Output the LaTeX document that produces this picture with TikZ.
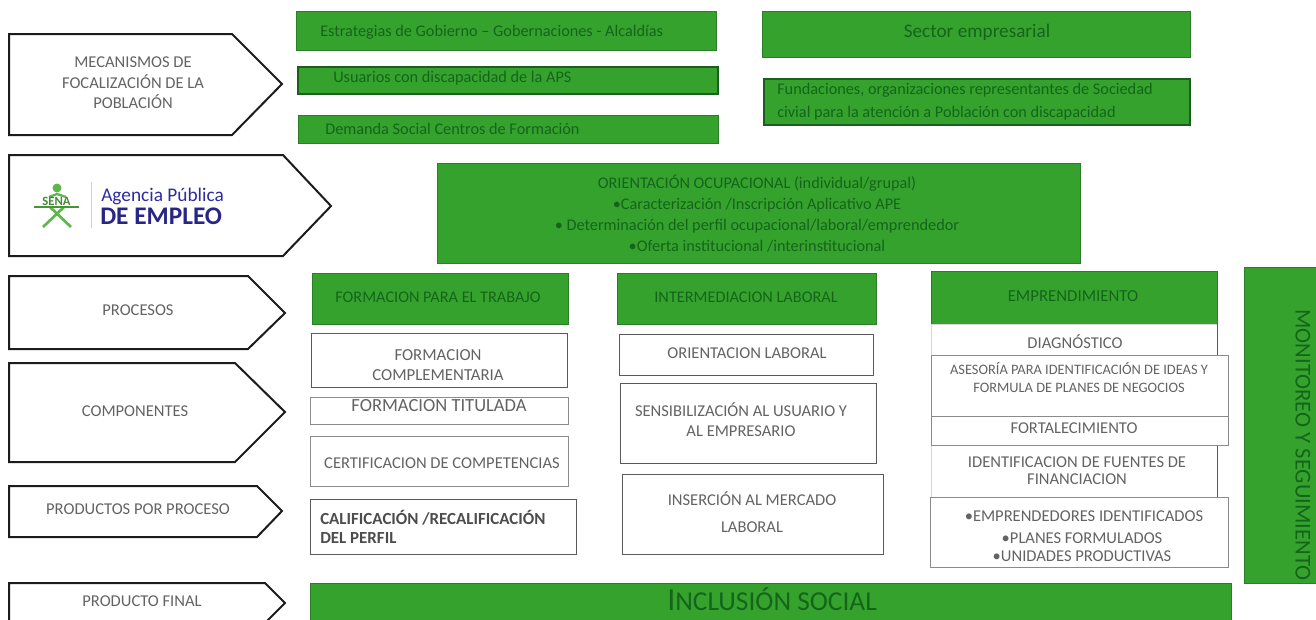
\documentclass[tikz,border=0pt]{standalone}
\usepackage{fontspec}
\setmainfont{Carlito}
\usetikzlibrary{fit}
\definecolor{gfill}{HTML}{35A22E}
\definecolor{gedge}{HTML}{2C7D2A}
\definecolor{gdark}{HTML}{1A5F1F}
\definecolor{gtext}{HTML}{14651A}
\definecolor{wtext}{HTML}{636363}
\definecolor{wedge}{HTML}{5A5A5A}
\definecolor{penedge}{HTML}{1C1C1C}
\definecolor{apeblue}{HTML}{2F2C9E}
\definecolor{senagreen}{HTML}{5DB84A}
\newcommand{\fs}[1]{\fontsize{#1}{#1}\selectfont}
\tikzset{
  x=0.75pt,y=-0.75pt,
  box/.style={inner sep=0pt,outer sep=0pt,line width=0.7pt},
  gbox/.style={box,fill=gfill,draw=gedge},
  gboxd/.style={box,fill=gfill,draw=gdark,line width=1pt},
  wbox/.style={box,fill=white,draw=wedge},
  wboxl/.style={box,fill=white,draw=wedge!70},
  wboxf/.style={box,fill=white,draw=wedge!25},
  gtxt/.style={text=gtext,inner sep=0pt,align=center,font=\fs{12.2}},
  wtxt/.style={text=wtext,inner sep=0pt,align=center,font=\fs{12.4}},
  pen/.style={draw=penedge,line width=1.5pt,fill=white,line join=miter},
}
\begin{document}
\begin{tikzpicture}
\useasboundingbox (0,0) rectangle (1316,619);
\clip (0,0) rectangle (1316,619);
\fill[white] (0,0) rectangle (1316,619);
% pentagons
\draw[pen] (9,34) -- (232,34) -- (282,84) -- (232,135) -- (9,135) -- cycle;
\draw[pen] (9,155) -- (283,155) -- (331,206) -- (283,256) -- (9,256) -- cycle;
\draw[pen] (9,276) -- (248,276) -- (285,313) -- (248,349) -- (9,349) -- cycle;
\draw[pen] (9,363) -- (235,363) -- (285,412) -- (235,462) -- (9,462) -- cycle;
\draw[pen] (9,486) -- (257,486) -- (282,511) -- (257,537) -- (9,537) -- cycle;
\draw[pen] (9,583) -- (265,583) -- (285,603) -- (265,623) -- (9,623) -- cycle;
\node[wtxt] (tmec) at (133,83) {MECANISMOS DE\\[3pt]FOCALIZACIÓN  DE LA\\[3pt]POBLACIÓN};
\node[wtxt] (tpro) at (138,310) {PROCESOS};
\node[wtxt] (tcom) at (135,411) {COMPONENTES};
\node[wtxt] (tprp) at (138,509) {PRODUCTOS POR PROCESO};
\node[wtxt] (tpfi) at (142,601) {PRODUCTO FINAL};
% logo
\fill[senagreen] (57,188) circle (4.5);
\draw[senagreen,line width=1.7pt] (49,197) -- (57,194) -- (66,197);
\draw[senagreen,line width=2pt] (43,227) -- (64,207);
\draw[senagreen,line width=2pt] (71,227) -- (50,207);
\draw[senagreen!80!black,line width=1pt] (34,207) -- (79,207);
\node[text=senagreen!75!black,inner sep=0pt,font=\fs{9.5}\bfseries] (tsena) at (56.5,201) {SENA};
\draw[gray!35,line width=0.7pt] (91,182) -- (91,228);
\node[text=apeblue,inner sep=0pt,anchor=west,font=\fs{14.5}] (tage) at (101,196) {Agencia Pública};
\node[text=apeblue!85!black,inner sep=0pt,anchor=west,font=\fs{19}\bfseries] (temp) at (100,216) {DE EMPLEO};
% top green
\node[gbox,fit={(296,11) (716,50)}] (bes) {};
\node[gboxd,fit={(298,67) (718,94)}] (bus) {};
\node[gbox,fit={(298,115) (718,143)}] (bde) {};
\node[gbox,fit={(762,11) (1190,57)}] (bse) {};
\node[gboxd,fit={(764,79) (1190,125)}] (bfu) {};
\node[gtxt,anchor=west] (tes) at (320,32) {Estrategias de Gobierno – Gobernaciones - Alcaldías};
\node[gtxt,anchor=west] (tus) at (333,78) {Usuarios con discapacidad  de la APS};
\node[gtxt,anchor=west] (tde) at (325,129) {Demanda Social Centros de Formación};
\node[gtxt,font=\fs{14.4}] (tse) at (977,32) {Sector empresarial};
\node[gtxt,anchor=west,align=left] (tfu) at (777,102) {Fundaciones, organizaciones representantes de Sociedad\\[5pt]civial para la  atención a Población con discapacidad};
% orientacion
\node[gbox,fit={(437,163) (1080,263)}] (bor) {};
\node[gtxt] (tor) at (757,213.5) {ORIENTACIÓN OCUPACIONAL (individual/grupal)\\[3.5pt]•Caracterización /Inscripción  Aplicativo  APE\\[3.5pt]• Determinación del perfil  ocupacional/laboral/emprendedor\\[3.5pt]•Oferta institucional /interinstitucional};
% headers
\node[gbox,fit={(312,273) (568,324)}] (bfo) {};
\node[gbox,fit={(617,273) (876,324)}] (bin) {};
\node[gbox,fit={(931,271) (1217,324)}] (bem) {};
\node[gtxt] (tfo) at (438,297) {FORMACION PARA EL TRABAJO};
\node[gtxt] (tin) at (746,297) {INTERMEDIACION LABORAL};
\node[gtxt,font=\fs{12.6}] (tem) at (1073,296) {EMPRENDIMIENTO};
% column 1
\node[wbox,fit={(311,333) (567,387)}] (bfc) {};
\node[wboxl,fit={(310,397) (568,424)}] (bft) {};
\node[wboxl,fit={(310,436) (568,486)}] (bcc) {};
\node[wbox,fit={(310,499) (576,554)}] (bca) {};
\node[wtxt,font=\fs{12.6}] (tfc) at (438,365) {FORMACION\\[2.4pt]COMPLEMENTARIA};
\node[wtxt,font=\fs{13.9}] (tft) at (439,406) {FORMACION TITULADA};
\node[wtxt] (tcc) at (442,463) {CERTIFICACION DE COMPETENCIAS};
\node[inner sep=0pt,anchor=west,align=left,text=black!70,font=\fs{12.7}\bfseries] (tca) at (320,527) {CALIFICACIÓN /RECALIFICACIÓN\\[1pt]DEL PERFIL};
% column 2
\node[wbox,fit={(619,334) (873,375)}] (bol) {};
\node[wbox,fit={(620,383) (876,463)}] (bsn) {};
\node[wbox,fit={(622,474) (883,554)}] (bim) {};
\node[wtxt] (tol) at (747,353) {ORIENTACION LABORAL};
\node[wtxt] (tsn) at (741,420) {SENSIBILIZACIÓN AL USUARIO Y\\[2.6pt]AL EMPRESARIO};
\node[wtxt] (tim) at (752,512) {INSERCIÓN AL MERCADO\\[7.6pt]LABORAL};
% column 3
\node[wboxf,fit={(931,324) (1217,355)}] (bdi) {};
\draw[wedge,line width=0.7pt] (bdi.north east) -- (bdi.south east);
\node[wboxf,fit={(931,445) (1217,497)}] (bid) {};
\draw[wedge,line width=0.7pt] (bid.north east) -- (bid.south east);
\node[wboxl,fit={(931,355) (1228,416)}] (bas) {};
\node[wboxl,fit={(931,416) (1228,445)}] (bfr) {};
\node[wboxl,fit={(930,497) (1228,567)}] (bep) {};
\node[wtxt] (tdi) at (1075,342) {DIAGNÓSTICO};
\node[wtxt,font=\fs{10.8}] (tas) at (1079,377.5) {ASESORÍA PARA IDENTIFICACIÓN DE  IDEAS Y\\[2pt]FORMULA DE PLANES DE NEGOCIOS};
\node[wtxt] (tfr) at (1074,428) {FORTALECIMIENTO};
\node[wtxt] (tid) at (1077,470.5) {IDENTIFICACION DE  FUENTES DE\\[0.8pt]FINANCIACION};
\node[wtxt] (tep) at (1084,516) {•EMPRENDEDORES IDENTIFICADOS};
\node[wtxt] (tpl) at (1082,538) {•PLANES FORMULADOS};
\node[wtxt] (tun) at (1082,556) {•UNIDADES PRODUCTIVAS};
% monitoring and final
\node[gbox,fit={(1244,267) (1320,583)}] (bmo) {};
\node[gtxt,rotate=-90,font=\fs{17}] (tmo) at (1303,445) {MONITOREO Y SEGUIMIENTO};
\node[gbox,fit={(310,583) (1231,625)}] (bfi) {};
\node[gtxt,font=\fs{20.5},anchor=base] (tfi) at (772,610) {{\fs{24}I}NCLUSIÓN  SOCIAL};
\end{tikzpicture}
\end{document}
